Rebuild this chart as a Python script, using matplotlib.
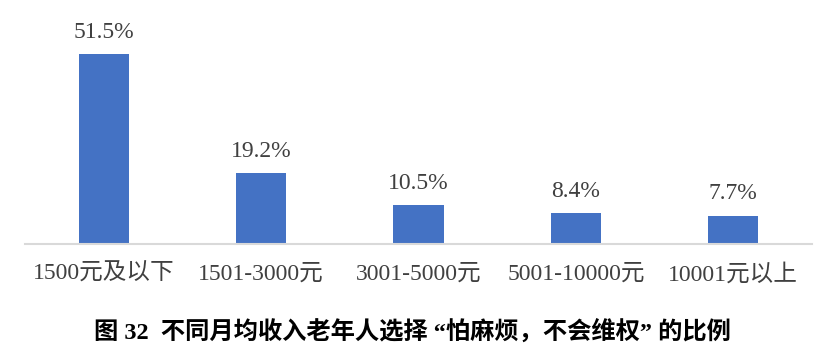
import matplotlib
matplotlib.use("Agg")
import matplotlib.pyplot as plt

categories = ["1500元及以下", "1501-3000元", "3001-5000元", "5001-10000元", "10001元以上"]
values = [51.5, 19.2, 10.5, 8.4, 7.7]
value_labels = ["51.5%", "19.2%", "10.5%", "8.4%", "7.7%"]
title = "图 32  不同月均收入老年人选择 “怕麻烦，不会维权” 的比例"

plt.rcParams["font.family"] = ["Liberation Serif", "Noto Sans CJK SC", "DejaVu Sans"]

fig = plt.figure(figsize=(8.31, 3.54), dpi=100)
ax = fig.add_axes([25 / 831, 1 - 244 / 354, 787 / 831, 221.4 / 354])

x = list(range(len(categories)))
bars = ax.bar(x, values, width=0.318, color="#4472C4", zorder=2)
for xi, v, lab in zip(x, values, value_labels):
    ax.annotate(lab, (xi, v), xytext=(0, 8), textcoords="offset points",
                ha="center", va="bottom", fontsize=17, color="#404040")

ax.set_xlim(-0.5, len(categories) - 0.5)
ax.set_ylim(0, 60)
ax.set_xticks(x)
ax.set_xticklabels(categories, fontsize=17, color="#404040")
ax.tick_params(axis="x", length=0, pad=14)
ax.set_yticks([])
for s in ["top", "right", "left"]:
    ax.spines[s].set_visible(False)
ax.spines["bottom"].set_color("#D9D9D9")
ax.spines["bottom"].set_linewidth(1.5)

fig.text(0.496, 1 - 332 / 354, title, ha="center", va="center",
         fontsize=17.5, fontweight="bold", color="black")

fig.savefig("out.png", dpi=100)
